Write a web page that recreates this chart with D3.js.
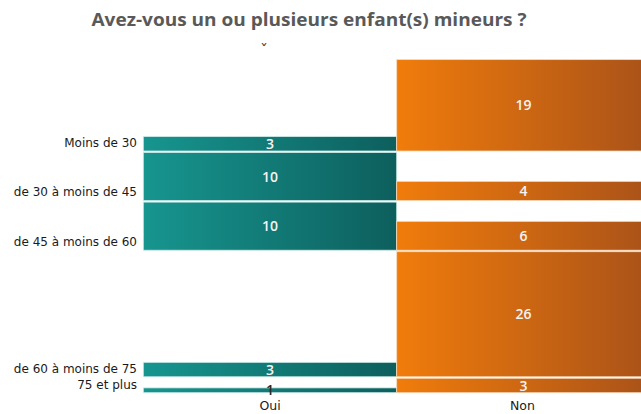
<!DOCTYPE html>
<html>
    <head>
        <meta charset="utf-8">
        <title>Enfants mineurs</title>
        <script src="https://d3js.org/d3.v7.min.js"></script>
        <style>
            body { margin: 0; background: #fff; }
        </style>
    </head>
    <body>
        <script>
            // data
            var ageGroups = ["Moins de 30", "de 30 à moins de 45", "de 45 à moins de 60", "de 60 à moins de 75", "75 et plus"];
            var answers = ["Oui", "Non"];
            var ouiValues = [3, 10, 10, 3, 1];
            var nonValues = [19, 4, 6, 26, 3];
            var title = "Avez-vous un ou plusieurs enfant(s) mineurs ?";

            var width = 641, height = 414;
            var bottom = 392.7, gap = 1.5;

            var svg = d3.select("body").append("svg")
                .attr("width", width)
                .attr("height", height);

            // gradients
            var defs = svg.append("defs");
            function grad(id, c1, c2) {
                var g = defs.append("linearGradient").attr("id", id)
                    .attr("x1", "0%").attr("x2", "100%").attr("y1", "0%").attr("y2", "0%");
                g.append("stop").attr("offset", "0%").attr("stop-color", c1);
                g.append("stop").attr("offset", "100%").attr("stop-color", c2);
            }
            grad("gOui", "#17958f", "#0d5f5d");
            grad("gNon", "#f07c0b", "#a95219");

            // columns
            var x = d3.scaleBand()
                .domain(answers)
                .range([143.3, 143.3 + 2 * 253.4])
                .padding(0);

            // height per unit
            var h = d3.scaleLinear().domain([0, 1]).range([0, 4.81]);

            // each row is as tall as its larger value, rows stacked from bottom
            var rows = ageGroups.map(function(name, i) {
                return {name: name, oui: ouiValues[i], non: nonValues[i], size: Math.max(ouiValues[i], nonValues[i])};
            });
            var yPos = bottom;
            for (var i = rows.length - 1; i >= 0; i--) {
                rows[i].bottom = yPos;
                yPos = yPos - h(rows[i].size) - gap;
            }

            var cells = [];
            rows.forEach(function(r) {
                cells.push({row: r, answer: "Oui", value: r.oui});
                cells.push({row: r, answer: "Non", value: r.non});
            });

            var g = svg.append("g");
            g.selectAll("rect.bar")
                .data(cells)
                .enter().append("rect")
                .attr("class", "bar")
                .attr("x", function(d) { return x(d.answer); })
                .attr("width", x.bandwidth())
                .attr("y", function(d) { return d.row.bottom - h(d.value); })
                .attr("height", function(d) { return h(d.value); })
                .style("fill", function(d) { return d.answer == "Oui" ? "url(#gOui)" : "url(#gNon)"; })
                .style("stroke", function(d) { return d.answer == "Oui" ? "#cdeae8" : "#f5d9bd"; })
                .style("stroke-width", 0.8);

            // values
            g.selectAll("text.val")
                .data(cells)
                .enter().append("text")
                .attr("class", "val")
                .attr("x", function(d) { return x(d.answer) + x.bandwidth() / 2; })
                .attr("y", function(d) { return d.row.bottom - h(d.value) / 2; })
                .attr("dy", "0.36em")
                .attr("text-anchor", "middle")
                .style("font-family", "'Open Sans', sans-serif")
                .style("font-weight", 600)
                .style("font-size", "14px")
                .style("fill", function(d) { return h(d.value) < 8 ? "#2a2a2a" : "#f4f4f4"; })
                .text(function(d) { return d.value; });

            // row labels
            g.selectAll("text.cat")
                .data(rows)
                .enter().append("text")
                .attr("class", "cat")
                .attr("x", 137)
                .attr("y", function(d) { return d.bottom - 8.5; })
                .attr("dy", "0.36em")
                .attr("text-anchor", "end")
                .style("font-family", "'DejaVu Sans', sans-serif")
                .style("font-size", "12px")
                .style("fill", "#1a1a1a")
                .text(function(d) { return d.name; });

            // column labels
            g.selectAll("text.ans")
                .data(answers)
                .enter().append("text")
                .attr("class", "ans")
                .attr("x", function(d) { return x(d) + x.bandwidth() / 2 - (d == "Non" ? 1 : 0); })
                .attr("y", 405)
                .attr("dy", "0.36em")
                .attr("text-anchor", "middle")
                .style("font-family", "'DejaVu Sans', sans-serif")
                .style("font-size", "12.5px")
                .style("fill", "#1a1a1a")
                .text(function(d) { return d; });

            // stray mark under the title
            svg.append("text")
                .attr("x", 264).attr("y", 56)
                .attr("text-anchor", "middle")
                .style("font-family", "'DejaVu Sans', sans-serif")
                .style("font-size", "16px")
                .style("fill", "#444")
                .text("ˇ");

            // title
            svg.append("text")
                .attr("x", 91.5).attr("y", 25.5)
                .attr("textLength", 435)
                .attr("lengthAdjust", "spacingAndGlyphs")
                .style("font-family", "'Open Sans', sans-serif")
                .style("font-weight", "bold")
                .style("font-size", "18px")
                .style("fill", "#595959")
                .text(title);
        </script>
    </body>
</html>
